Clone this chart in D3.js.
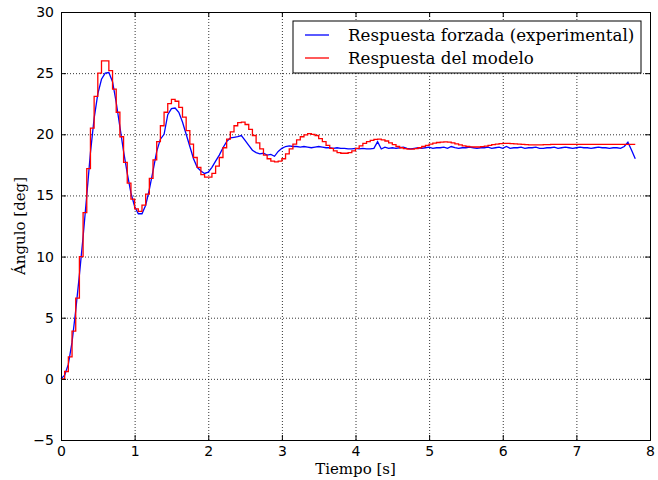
<!DOCTYPE html>
<html>
<head>
<meta charset="utf-8">
<script src="https://d3js.org/d3.v7.min.js"></script>
<style>
  body { margin: 0; background: #fff; }
  .tick text { font-family: "DejaVu Sans", sans-serif; font-size: 14px; fill: #000; }
  .lbl { font-family: "DejaVu Serif", serif; font-size: 15px; fill: #000; }
  .leg { font-family: "DejaVu Serif", serif; font-size: 16.7px; fill: #000; }
</style>
</head>
<body>
<div id="chart"></div>
<script>
// sample period of both signals [s]
const dt = 0.05;

// Respuesta forzada (experimental), one value every 0.05 s from t = 0
const experimental = [
  0, 0.3, 1.2, 3.0, 5.6, 8.5, 11.6, 15.0, 18.5, 21.3,
  23.3, 24.5, 25.0, 25.05, 24.3, 22.6, 20.6, 18.6, 16.8, 15.2,
  14.1, 13.5, 13.5, 14.2, 15.5, 17.0, 18.6, 19.6, 20.0, 21.6,
  22.1, 22.15, 21.8, 21.0, 20.0, 19.0, 18.0, 17.3, 17.0, 16.8,
  16.9, 17.3, 17.8, 18.3, 18.9, 19.4, 19.7, 19.75, 19.8, 19.9,
  19.5, 19.1, 18.7, 18.5, 18.4, 18.45, 18.3, 18.35, 18.2, 18.6,
  18.85, 19.0, 19.05, 19.0, 19.0, 18.95, 19.0, 18.95, 18.9, 18.95,
  19.0, 18.95, 18.9, 18.9, 18.85, 18.9, 18.85, 18.85, 18.8, 18.8,
  18.85, 18.8, 18.85, 18.8, 18.8, 18.85, 19.4, 18.8, 18.95, 18.85,
  18.9, 18.85, 18.9, 18.95, 18.85, 18.8, 18.85, 18.9, 18.85, 18.9,
  18.95, 18.85, 18.9, 18.9, 18.95, 18.85, 19.0, 18.9, 18.85, 18.9,
  18.9, 18.95, 18.9, 18.85, 18.9, 18.9, 18.95, 18.85, 18.9, 18.95,
  18.85, 19.0, 18.85, 18.9, 18.9, 18.95, 18.85, 18.9, 18.9, 18.95,
  18.85, 18.85, 18.9, 18.9, 18.95, 18.85, 18.9, 18.95, 18.9, 18.85,
  18.9, 18.95, 18.9, 18.9, 18.85, 18.9, 18.95, 18.9, 18.9, 18.85,
  18.9, 18.9, 18.85, 19.0, 19.35, 18.7, 18.0
];

// Respuesta del modelo (held samples)
const modelo = [
  0, 0.6, 1.8, 3.9, 6.6, 10.0, 13.6, 17.2, 20.5, 23.1,
  25.0, 26.0, 26.0, 25.2, 23.7, 21.8, 19.8, 17.7, 16.0, 14.7,
  13.9, 13.7, 14.2, 15.1, 16.4, 17.9, 19.4, 20.7, 21.8, 22.5,
  22.85, 22.7, 22.2, 21.4, 20.3, 19.2, 18.1, 17.3, 16.7, 16.5,
  16.5, 16.8, 17.4, 18.1, 18.9, 19.6, 20.2, 20.7, 20.95, 21.0,
  20.8, 20.4, 19.9, 19.3, 18.8, 18.3, 18.0, 17.8, 17.75, 17.8,
  18.0, 18.4, 18.8, 19.2, 19.55, 19.8, 19.95, 20.05, 20.0, 19.9,
  19.65, 19.4, 19.1, 18.85, 18.65, 18.5, 18.45, 18.45, 18.5, 18.65,
  18.85, 19.05, 19.25, 19.4, 19.5, 19.58, 19.6, 19.55, 19.45, 19.3,
  19.15, 19.0, 18.9, 18.82, 18.78, 18.78, 18.82, 18.9, 19.0, 19.1,
  19.2, 19.28, 19.33, 19.36, 19.38, 19.36, 19.3, 19.22, 19.14, 19.06,
  19.0, 18.97, 18.96, 18.96, 18.99, 19.04, 19.1, 19.16, 19.2, 19.23,
  19.25, 19.25, 19.24, 19.22, 19.2, 19.17, 19.15, 19.14, 19.13, 19.13,
  19.14, 19.15, 19.16, 19.17, 19.18, 19.18, 19.18, 19.17, 19.17, 19.17,
  19.17, 19.17, 19.18, 19.18, 19.18, 19.18, 19.18, 19.18, 19.18, 19.18,
  19.18, 19.18, 19.18, 19.18, 19.18, 19.18, 19.18
];

const xTicks = [0, 1, 2, 3, 4, 5, 6, 7, 8];
const yTicks = [-5, 0, 5, 10, 15, 20, 25, 30];
const seriesNames = ["Respuesta forzada (experimental)", "Respuesta del modelo"];
const seriesColors = ["#0000ff", "#ff0000"];

const margin = {top: 12, right: 8, bottom: 40, left: 61},
  width = 658 - margin.left - margin.right,
  height = 480 - margin.top - margin.bottom;

const x = d3.scaleLinear().domain([0, 8]).range([0, width]);
const y = d3.scaleLinear().domain([-5, 30]).range([height, 0]);

const svg = d3.select("#chart").append("svg")
    .attr("width", 658)
    .attr("height", 480)
  .append("g")
    .attr("transform", "translate(" + margin.left + "," + margin.top + ")");

// grid
svg.append("g")
  .attr("class", "grid")
  .attr("transform", "translate(0," + height + ")")
  .call(d3.axisBottom(x).tickValues(xTicks).tickSize(-height).tickFormat(""));
svg.append("g")
  .attr("class", "grid")
  .call(d3.axisLeft(y).tickValues(yTicks).tickSize(-width).tickFormat(""));
svg.selectAll(".grid .domain").remove();
svg.selectAll(".grid line")
  .attr("stroke", "#000")
  .attr("stroke-width", 0.8)
  .attr("stroke-dasharray", "1,2");

// lines
const line = d3.line()
  .x((d, i) => x(i * dt))
  .y(d => y(d));

svg.append("path")
  .datum(experimental)
  .attr("d", line)
  .attr("fill", "none")
  .attr("stroke", seriesColors[0])
  .attr("stroke-width", 1.3);

svg.append("path")
  .datum(modelo)
  .attr("d", line.curve(d3.curveStepAfter))
  .attr("fill", "none")
  .attr("stroke", seriesColors[1])
  .attr("stroke-width", 1.3);

// axes, ticks pointing inside
const fmt = d3.format("d");
svg.append("g")
  .attr("transform", "translate(0," + height + ")")
  .call(d3.axisBottom(x).tickValues(xTicks).tickFormat(fmt).tickSize(-5).tickPadding(6));
svg.append("g")
  .call(d3.axisTop(x).tickValues(xTicks).tickFormat("").tickSize(-5));
svg.append("g")
  .call(d3.axisLeft(y).tickValues(yTicks).tickFormat(fmt).tickSize(-5).tickPadding(7));
svg.append("g")
  .attr("transform", "translate(" + width + ",0)")
  .call(d3.axisRight(y).tickValues(yTicks).tickFormat("").tickSize(-5));
svg.selectAll(".domain").attr("stroke", "#000");
svg.selectAll(".tick line").filter(function() { return !this.closest(".grid"); })
  .attr("stroke", "#000");

// labels
svg.append("text")
  .attr("class", "lbl")
  .attr("x", width / 2)
  .attr("y", height + 34)
  .attr("text-anchor", "middle")
  .text("Tiempo [s]");

svg.append("text")
  .attr("class", "lbl")
  .attr("transform", "translate(-36," + (height / 2) + ") rotate(-90)")
  .attr("text-anchor", "middle")
  .text("Ángulo [deg]");

// legend
const legend = svg.append("g")
  .attr("transform", "translate(" + (width - 357) + ",9)");

legend.append("rect")
  .attr("width", 348)
  .attr("height", 52)
  .attr("fill", "#fff")
  .attr("stroke", "#000")
  .attr("stroke-width", 1);

seriesNames.forEach((name, i) => {
  legend.append("line")
    .attr("x1", 12).attr("x2", 36)
    .attr("y1", 14 + i * 23).attr("y2", 14 + i * 23)
    .attr("stroke", seriesColors[i])
    .attr("stroke-width", 1.3);
  legend.append("text")
    .attr("class", "leg")
    .attr("x", 55)
    .attr("y", 14 + i * 23)
    .attr("dy", "0.35em")
    .text(name);
});
</script>
</body>
</html>
